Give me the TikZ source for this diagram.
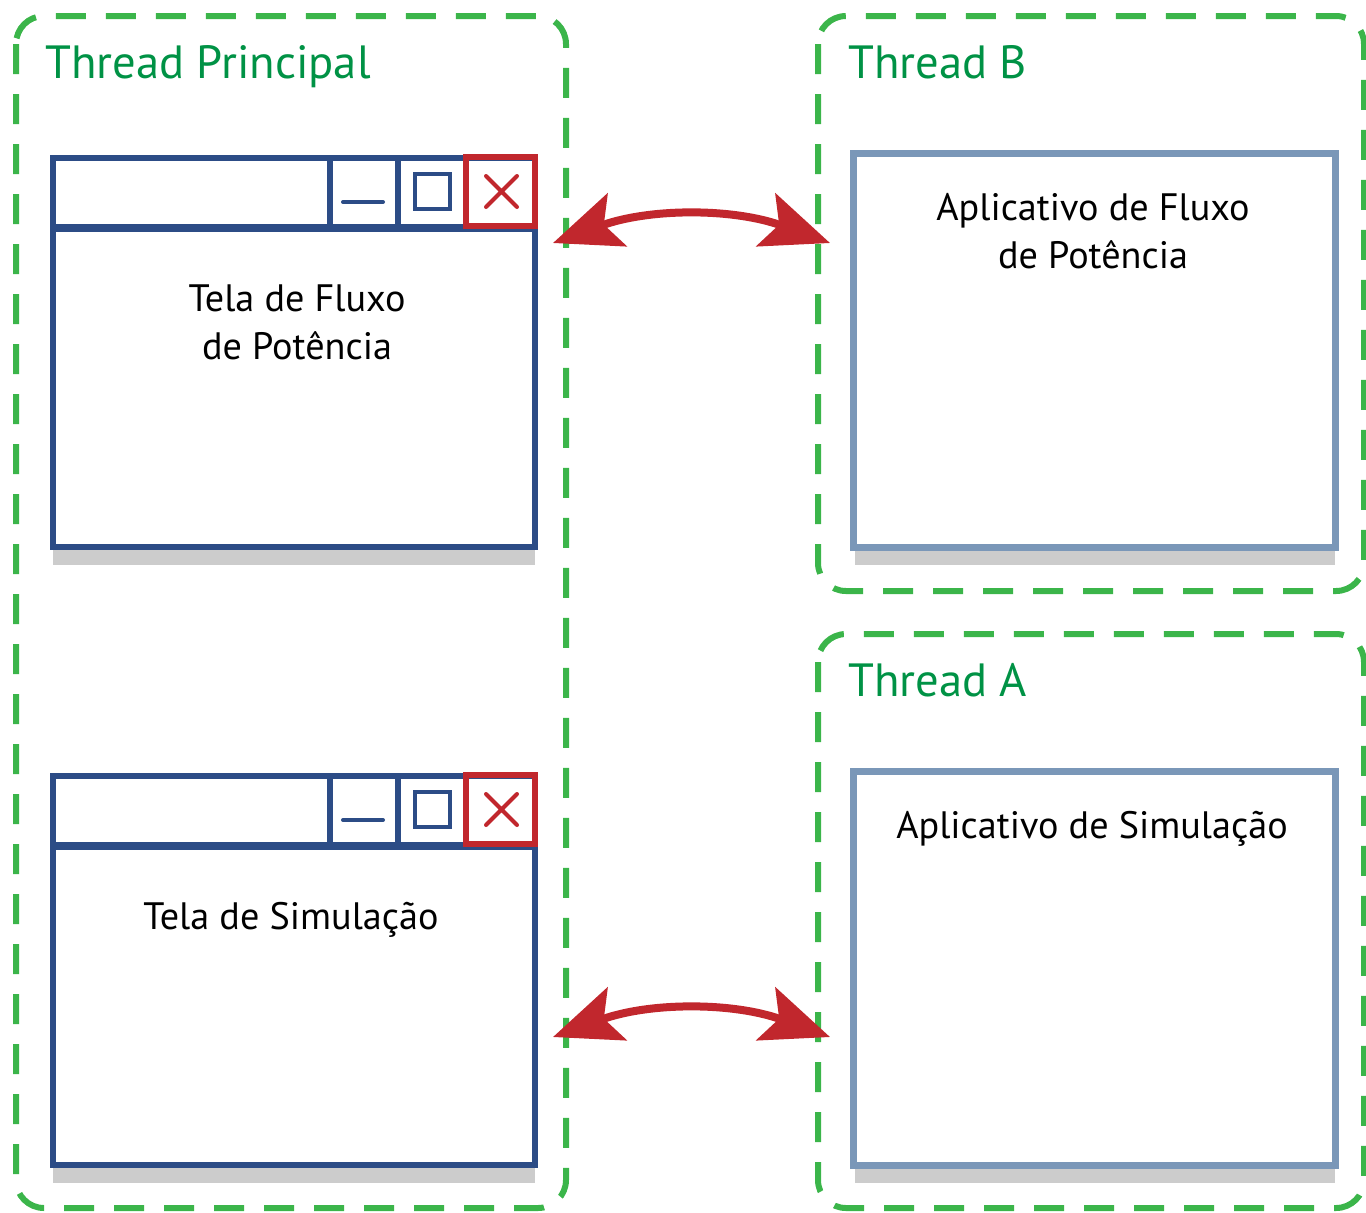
\documentclass[tikz,border=0pt]{standalone}
\usepackage{fontspec}
\setmainfont{PT Sans}
\usetikzlibrary{arrows.meta}
\definecolor{threadgreen}{HTML}{3BB54A}
\definecolor{labelgreen}{HTML}{009245}
\definecolor{winblue}{HTML}{2C4C86}
\definecolor{appblue}{HTML}{7A97B8}
\definecolor{closered}{HTML}{C1272D}
\definecolor{shadowgray}{HTML}{CCCCCC}
\begin{document}
\begin{tikzpicture}[x=0.5pt,y=-0.5pt,
  threadbox/.style={draw=threadgreen, line width=3pt, dash pattern=on 15pt off 10pt, rounded corners=14pt},
  threadlabel/.style={text=labelgreen, font=\fontsize{23.3}{28}\selectfont, anchor=base west, inner sep=0pt},
  winframe/.style={draw=winblue, line width=3pt, fill=white},
  winline/.style={draw=winblue, line width=3pt},
  winicon/.style={draw=winblue, line width=2pt, line cap=round},
  closebox/.style={draw=closered, line width=3pt},
  closeicon/.style={draw=closered, line width=2pt, line cap=round},
  appframe/.style={draw=appblue, line width=3.5pt, fill=white},
  shadowbar/.style={fill=shadowgray},
  wintext/.style={font=\fontsize{19.1}{24}\selectfont, align=center, anchor=north, inner sep=0pt},
  syncarrow/.style={draw=closered, line width=4pt,
    {Stealth[length=34pt,width=28pt,inset=7pt]}-{Stealth[length=34pt,width=28pt,inset=7pt]}},
]
\useasboundingbox (0,0) rectangle (1366,1212);

% thread containers
\draw[threadbox] (16,16) rectangle (566,1208);
\draw[threadbox] (818,16) rectangle (1364,591);
\draw[threadbox] (818,634) rectangle (1364,1208);
\node[threadlabel] (lblmain) at (45,78) {Thread Principal};
\node[threadlabel] (lblb) at (848,78) {Thread B};
\node[threadlabel] (lbla) at (848,696) {Thread A};

% the two screen windows of the main thread
\foreach \oy in {0,618}{
  \fill[shadowbar] (53,549+\oy) rectangle (535,565+\oy);
  \draw[winframe] (52.5,157.5+\oy) rectangle (535,547+\oy);
  \draw[winblue, line width=4pt] (52.5,228+\oy) -- (535,228+\oy);
  \draw[winline] (330,157.5+\oy) -- (330,228+\oy);
  \draw[winline] (398,157.5+\oy) -- (398,228+\oy);
  \draw[winicon] (343,202+\oy) -- (383,202+\oy);
  \draw[winblue, line width=2pt] (415,174+\oy) rectangle (450,209+\oy);
  \draw[closebox] (466,157+\oy) rectangle (535,226+\oy);
  \draw[closeicon] (486,176+\oy) -- (517,207+\oy) (517,176+\oy) -- (486,207+\oy);
}

% application panels of threads B and A
\foreach \oy in {0,618}{
  \fill[shadowbar] (855,551+\oy) rectangle (1335,565+\oy);
  \draw[appframe] (853.5,153.5+\oy) rectangle (1335.5,547.5+\oy);
}

\node[wintext] (telafluxo) at (297,284) {Tela de Fluxo\\de Potência};
\node[wintext] (telasim) at (291,902) {Tela de Simulação};
\node[wintext] (appfluxo) at (1093,193) {Aplicativo de Fluxo\\de Potência};
\node[wintext] (appsim) at (1092,811) {Aplicativo de Simulação};

% communication between screens and applications
\coordinate (fluxoL) at (553,243);
\coordinate (fluxoR) at (830,243);
\coordinate (simL) at (553,1037);
\coordinate (simR) at (830,1037);
\draw[syncarrow] (fluxoL) .. controls (650,208) and (733,208) .. (fluxoR);
\draw[syncarrow] (simL) .. controls (650,1002) and (733,1002) .. (simR);
\end{tikzpicture}
\end{document}
